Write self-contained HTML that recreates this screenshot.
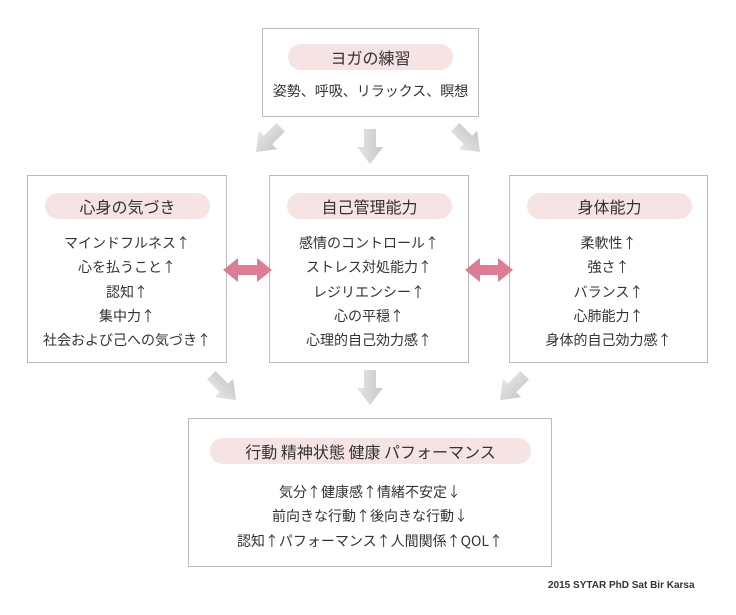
<!DOCTYPE html>
<html><head><meta charset="utf-8"><style>
body{margin:0;width:736px;height:615px;background:#fff;position:relative;overflow:hidden;font-family:"Liberation Sans","Noto Sans CJK JP",sans-serif;color:#333}
.box{position:absolute;border:1px solid #bbb;background:#fff;box-sizing:border-box}
.pill{position:absolute;background:#f6e4e4;border-radius:14px;height:26px;line-height:26px;text-align:center;font-size:16px;color:#333;font-family:"Noto Sans CJK JP",sans-serif}
.lines{position:absolute;left:0;right:0;text-align:center;font-size:14px;line-height:24.3px;font-family:"Noto Sans CJK JP",sans-serif}
.ft{position:absolute;left:548px;top:580px;font-size:10px;font-weight:bold;color:#333}
svg{position:absolute;left:0;top:0}
</style></head><body>
<div class="box" style="left:262px;top:28px;width:217px;height:89px">
 <div class="pill" style="left:25px;top:15px;width:165px">ヨガの練習</div>
 <div class="lines" style="top:50px">姿勢、呼吸、リラックス、瞑想</div>
</div>
<div class="box" style="left:27px;top:175px;width:200px;height:188px">
 <div class="pill" style="left:17px;top:17px;width:165px">心身の気づき</div>
 <div class="lines" style="top:55px">マインドフルネス↑<br>心を払うこと↑<br>認知↑<br>集中力↑<br>社会および己への気づき↑</div>
</div>
<div class="box" style="left:269px;top:175px;width:200px;height:188px">
 <div class="pill" style="left:17px;top:17px;width:165px">自己管理能力</div>
 <div class="lines" style="top:55px">感情のコントロール↑<br>ストレス対処能力↑<br>レジリエンシー↑<br>心の平穏↑<br>心理的自己効力感↑</div>
</div>
<div class="box" style="left:509px;top:175px;width:199px;height:188px">
 <div class="pill" style="left:17px;top:17px;width:165px">身体能力</div>
 <div class="lines" style="top:55px">柔軟性↑<br>強さ↑<br>バランス↑<br>心肺能力↑<br>身体的自己効力感↑</div>
</div>
<div class="box" style="left:188px;top:418px;width:364px;height:149px">
 <div class="pill" style="left:21px;top:19px;width:321px">行動 精神状態 健康 パフォーマンス</div>
 <div class="lines" style="top:61px">気分↑健康感↑情緒不安定↓<br>前向きな行動↑後向きな行動↓<br>認知↑パフォーマンス↑人間関係↑QOL↑</div>
</div>
<svg width="736" height="615">
<defs><linearGradient id="g" x1="0" x2="1"><stop offset="0" stop-color="#e6e6e6"/><stop offset="1" stop-color="#c8c8c8"/></linearGradient></defs>
<g fill="url(#g)">
 <g transform="translate(370,147)"><polygon points="-6,-18 6,-18 6,0 13,0 0,17 -13,0 -6,0"/></g>
 <g transform="translate(268,140) rotate(45)"><polygon points="-6,-18 6,-18 6,0 13,0 0,17 -13,0 -6,0"/></g>
 <g transform="translate(468,140) rotate(-45)"><polygon points="-6,-18 6,-18 6,0 13,0 0,17 -13,0 -6,0"/></g>
 <g transform="translate(370,388)"><polygon points="-6,-18 6,-18 6,0 13,0 0,17 -13,0 -6,0"/></g>
 <g transform="translate(224,388) rotate(-45)"><polygon points="-6,-18 6,-18 6,0 13,0 0,17 -13,0 -6,0"/></g>
 <g transform="translate(512,388) rotate(45)"><polygon points="-6,-18 6,-18 6,0 13,0 0,17 -13,0 -6,0"/></g>
</g>
<g fill="#de7b95">
 <polygon points="223,270 238,258 238,265 257,265 257,258 272,270 257,282 257,275 238,275 238,282"/>
 <polygon points="465,270 480,258 480,265 498,265 498,258 513,270 498,282 498,275 480,275 480,282"/>
</g>
</svg>
<div class="ft">2015 SYTAR PhD Sat Bir Karsa</div>
</body></html>
